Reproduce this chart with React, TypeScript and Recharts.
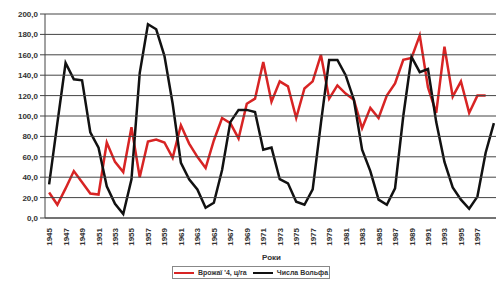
import React from 'react';
import * as Recharts from 'recharts';

const { LineChart, Line, XAxis, YAxis } = Recharts;

const years = [
  1945, 1946, 1947, 1948, 1949, 1950, 1951, 1952, 1953, 1954, 1955, 1956, 1957, 1958,
  1959, 1960, 1961, 1962, 1963, 1964, 1965, 1966, 1967, 1968, 1969, 1970, 1971, 1972,
  1973, 1974, 1975, 1976, 1977, 1978, 1979, 1980, 1981, 1982, 1983, 1984, 1985, 1986,
  1987, 1988, 1989, 1990, 1991, 1992, 1993, 1994, 1995, 1996, 1997, 1998, 1999,
];

// crop yields, c/ha (no value for the last year)
const yields = [
  25, 13, 29, 46, 35, 24, 23, 74, 55, 45, 89, 40, 75, 77,
  74, 59, 91, 73, 60, 49, 76, 98, 93, 78, 112, 117, 153, 114,
  134, 129, 98, 127, 134, 160, 117, 130, 122, 116, 88, 108, 98, 120,
  132, 155, 157, 179, 128, 103, 168, 119, 134, 103, 120, 120, null,
];

// Wolf (sunspot) numbers
const wolf = [
  33, 93, 152, 136, 135, 84, 69, 31, 14, 4, 38, 142, 190, 185,
  159, 112, 54, 38, 28, 10, 15, 47, 94, 106, 106, 104, 67, 69,
  38, 34, 16, 13, 28, 93, 155, 155, 140, 116, 67, 46, 18, 13,
  29, 100, 158, 143, 146, 94, 55, 30, 18, 9, 21, 64, 93,
];

const labelYears = years.filter((y) => (y - 1945) % 2 === 0 && y < 1999);
// vertical grid lines sit between categories, every two years
const gridYears = years.filter((y) => (y - 1945) % 2 === 0).map((y) => y - 0.5);
const yTicks = [0, 20, 40, 60, 80, 100, 120, 140, 160, 180, 200];
const xDomain: [number, number] = [years[0] - 0.5, years[years.length - 1] + 0.5];
const yDomain: [number, number] = [0, 200];

const data = years.map((year, i) => ({ year, yields: yields[i], wolf: wolf[i] }));

const FONT = '"Liberation Sans", Arial, sans-serif';
const GRID = '#444';
const FALLBACK_AREA = { x: 45, y: 14, width: 453, height: 204 };

const usePlot = () => {
  const usePA = (Recharts as any).usePlotArea;
  const area = typeof usePA === 'function' ? usePA() : undefined;
  if (area && Number.isFinite(area.width) && area.width > 0) return area;
  return FALLBACK_AREA;
};

const YearTick = (props: any) => {
  const { x, y, payload } = props;
  return (
    <g transform={`translate(${x},${y})`}>
      <text
        transform="rotate(-90)"
        textAnchor="end"
        dy={3}
        fontSize={8}
        fontWeight="bold"
        fontFamily={FONT}
        fill="#333"
      >
        {payload.value}
      </text>
    </g>
  );
};

// vertical grid line at each tick of the hidden grid axis
const GridXTick = (props: any) => {
  const { x } = props;
  const area = usePlot();
  return <line x1={x} x2={x} y1={area.y} y2={area.y + area.height} stroke={GRID} strokeWidth={1} />;
};

// value label plus horizontal grid line
const ValueTick = (props: any) => {
  const { x, y, payload } = props;
  const area = usePlot();
  return (
    <g>
      <line x1={area.x} x2={area.x + area.width} y1={y} y2={y} stroke={GRID} strokeWidth={1} />
      <text
        x={x}
        y={y}
        dy={3}
        textAnchor="end"
        fontSize={8}
        fontWeight="bold"
        fontFamily={FONT}
        fill="#333"
      >
        {Number(payload.value).toFixed(1).replace('.', ',')}
      </text>
    </g>
  );
};

const App: React.FC = () => {
  return (
    <div
      style={{
        position: 'absolute',
        left: 0,
        top: 0,
        width: 496,
        height: 285,
        overflow: 'hidden',
        background: '#fff',
        fontFamily: FONT,
      }}
    >
      <LineChart
        width={500}
        height={285}
        data={data}
        margin={{ top: 14, right: 2, bottom: 0, left: 0 }}
      >
        <XAxis
          xAxisId="grid"
          orientation="top"
          type="number"
          dataKey="year"
          domain={xDomain}
          ticks={gridYears}
          interval={0}
          height={0}
          axisLine={false}
          tickLine={false}
          tick={<GridXTick />}
        />
        <XAxis
          type="number"
          dataKey="year"
          domain={xDomain}
          ticks={labelYears}
          interval={0}
          tickLine={false}
          tickMargin={4}
          axisLine={{ stroke: GRID }}
          tick={<YearTick />}
          height={67}
          label={{
            value: 'Роки',
            position: 'insideTop',
            offset: 36,
            fontSize: 8,
            fontWeight: 'bold',
            fill: '#333',
            fontFamily: FONT,
          }}
        />
        <YAxis
          type="number"
          domain={yDomain}
          ticks={yTicks}
          interval={0}
          width={45}
          tickSize={5}
          tickMargin={2}
          stroke={GRID}
          tick={<ValueTick />}
        />
        <Line
          type="linear"
          dataKey="yields"
          stroke="#d82424"
          strokeWidth={2.5}
          dot={false}
          isAnimationActive={false}
        />
        <Line
          type="linear"
          dataKey="wolf"
          stroke="#111"
          strokeWidth={2.5}
          dot={false}
          isAnimationActive={false}
        />
      </LineChart>
      <div
        style={{
          position: 'absolute',
          left: 172,
          top: 266,
          width: 158,
          height: 13,
          border: '1px solid #888',
          display: 'flex',
          alignItems: 'center',
          justifyContent: 'center',
          fontSize: 7,
          fontWeight: 'bold',
          color: '#333',
          gap: 4,
          boxSizing: 'border-box',
        }}
      >
        <span style={{ display: 'inline-block', width: 20, height: 2, background: '#d82424' }} />
        <span>Врожаї '4, ц/га</span>
        <span style={{ display: 'inline-block', width: 20, height: 2, background: '#111', marginLeft: 2 }} />
        <span>Числа Вольфа</span>
      </div>
    </div>
  );
};

export default App;
